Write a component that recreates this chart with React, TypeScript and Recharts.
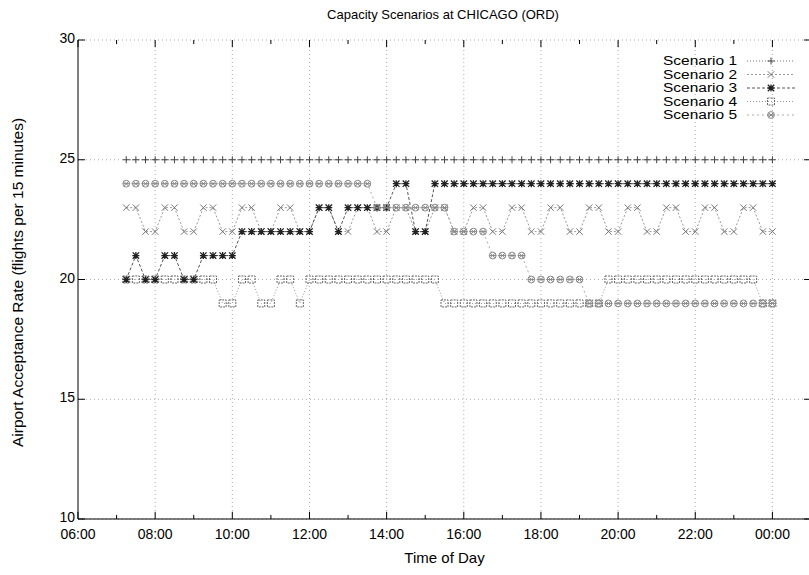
import React from 'react'
import { LineChart, Line, XAxis, YAxis, CartesianGrid, ReferenceLine, Legend } from 'recharts'

const FONT = '"Liberation Sans", Arial, Helvetica, sans-serif'

// 15-minute slots, 07:15 .. 00:00
const times = [
  '07:15', '07:30', '07:45', '08:00', '08:15', '08:30', '08:45', '09:00', '09:15', '09:30', '09:45', '10:00',
  '10:15', '10:30', '10:45', '11:00', '11:15', '11:30', '11:45', '12:00', '12:15', '12:30', '12:45', '13:00',
  '13:15', '13:30', '13:45', '14:00', '14:15', '14:30', '14:45', '15:00', '15:15', '15:30', '15:45', '16:00',
  '16:15', '16:30', '16:45', '17:00', '17:15', '17:30', '17:45', '18:00', '18:15', '18:30', '18:45', '19:00',
  '19:15', '19:30', '19:45', '20:00', '20:15', '20:30', '20:45', '21:00', '21:15', '21:30', '21:45', '22:00',
  '22:15', '22:30', '22:45', '23:00', '23:15', '23:30', '23:45', '00:00',
]

const scenario1 = [
  25, 25, 25, 25, 25, 25, 25, 25, 25, 25, 25, 25,
  25, 25, 25, 25, 25, 25, 25, 25, 25, 25, 25, 25,
  25, 25, 25, 25, 25, 25, 25, 25, 25, 25, 25, 25,
  25, 25, 25, 25, 25, 25, 25, 25, 25, 25, 25, 25,
  25, 25, 25, 25, 25, 25, 25, 25, 25, 25, 25, 25,
  25, 25, 25, 25, 25, 25, 25, 25,
]

const scenario2 = [
  23, 23, 22, 22, 23, 23, 22, 22, 23, 23, 22, 22,
  23, 23, 22, 22, 23, 23, 22, 22, 23, 23, 22, 22,
  23, 23, 22, 22, 23, 23, 22, 22, 23, 23, 22, 22,
  23, 23, 22, 22, 23, 23, 22, 22, 23, 23, 22, 22,
  23, 23, 22, 22, 23, 23, 22, 22, 23, 23, 22, 22,
  23, 23, 22, 22, 23, 23, 22, 22,
]

const scenario3 = [
  20, 21, 20, 20, 21, 21, 20, 20, 21, 21, 21, 21,
  22, 22, 22, 22, 22, 22, 22, 22, 23, 23, 22, 23,
  23, 23, 23, 23, 24, 24, 22, 22, 24, 24, 24, 24,
  24, 24, 24, 24, 24, 24, 24, 24, 24, 24, 24, 24,
  24, 24, 24, 24, 24, 24, 24, 24, 24, 24, 24, 24,
  24, 24, 24, 24, 24, 24, 24, 24,
]

const scenario4 = [
  20, 20, 20, 20, 20, 20, 20, 20, 20, 20, 19, 19,
  20, 20, 19, 19, 20, 20, 19, 20, 20, 20, 20, 20,
  20, 20, 20, 20, 20, 20, 20, 20, 20, 19, 19, 19,
  19, 19, 19, 19, 19, 19, 19, 19, 19, 19, 19, 19,
  19, 19, 20, 20, 20, 20, 20, 20, 20, 20, 20, 20,
  20, 20, 20, 20, 20, 20, 19, 19,
]

const scenario5 = [
  24, 24, 24, 24, 24, 24, 24, 24, 24, 24, 24, 24,
  24, 24, 24, 24, 24, 24, 24, 24, 24, 24, 24, 24,
  24, 24, 23, 23, 23, 23, 23, 23, 23, 23, 22, 22,
  22, 22, 21, 21, 21, 21, 20, 20, 20, 20, 20, 20,
  19, 19, 19, 19, 19, 19, 19, 19, 19, 19, 19, 19,
  19, 19, 19, 19, 19, 19, 19, 19,
]

const hourTicks = [6, 7, 8, 9, 10, 11, 12, 13, 14, 15, 16, 17, 18, 19, 20, 21, 22, 23, 24, 25]
const majorHours = [6, 8, 10, 12, 14, 16, 18, 20, 22, 24]
const xTickLabels = ['06:00', '08:00', '10:00', '12:00', '14:00', '16:00', '18:00', '20:00', '22:00', '00:00']
const yTicks = [10, 15, 20, 25, 30]

const toHour = (t: string) => {
  const [h, m] = t.split(':').map(Number)
  return (h < 6 ? h + 24 : h) + m / 60
}

const data = times.map((t, i) => ({
  hour: toHour(t),
  s1: scenario1[i],
  s2: scenario2[i],
  s3: scenario3[i],
  s4: scenario4[i],
  s5: scenario5[i],
}))

// gnuplot-style point types
const Plus = ({ cx, cy, c }: any) => (
  <path d={`M${cx - 3.5},${cy}h7M${cx},${cy - 3.5}v7`} stroke={c} strokeWidth={1} fill="none" />
)
const Cross = ({ cx, cy, c }: any) => (
  <path d={`M${cx - 3.2},${cy - 3.2}l6.4,6.4M${cx - 3.2},${cy + 3.2}l6.4,-6.4`} stroke={c} strokeWidth={1} fill="none" />
)
const Star = ({ cx, cy, c }: any) => (
  <path
    d={`M${cx - 3.5},${cy}h7M${cx},${cy - 3.5}v7M${cx - 3.2},${cy - 3.2}l6.4,6.4M${cx - 3.2},${cy + 3.2}l6.4,-6.4`}
    stroke={c}
    strokeWidth={1.3}
    fill="none"
  />
)
const Box = ({ cx, cy, c }: any) => (
  <rect x={cx - 3.5} y={cy - 3.5} width={7} height={7} stroke={c} strokeWidth={1} fill="none" strokeDasharray="2 1" />
)
const Hatch = ({ cx, cy, c }: any) => (
  <g stroke={c} strokeWidth={1} fill="none">
    <circle cx={cx} cy={cy} r={3.4} />
    <path d={`M${cx - 2.4},${cy - 2.4}l4.8,4.8M${cx - 2.4},${cy + 2.4}l4.8,-4.8M${cx - 3.4},${cy}h6.8`} />
  </g>
)

const series = [
  { key: 's1', name: 'Scenario 1', line: '#777', dash: '1 2', mark: '#444', Marker: Plus },
  { key: 's2', name: 'Scenario 2', line: '#999', dash: '2 2', mark: '#777', Marker: Cross },
  { key: 's3', name: 'Scenario 3', line: '#555', dash: '3 2', mark: '#222', Marker: Star },
  { key: 's4', name: 'Scenario 4', line: '#999', dash: '1 2', mark: '#666', Marker: Box },
  { key: 's5', name: 'Scenario 5', line: '#aaa', dash: '2 3', mark: '#888', Marker: Hatch },
]

const XTick = ({ x, y, payload }: any) => {
  const idx = majorHours.indexOf(payload.value)
  if (idx < 0) return <g />
  return (
    <text x={x} y={y + 20} textAnchor="middle" fontSize={14} fontFamily={FONT} fill="#000">
      {xTickLabels[idx]}
    </text>
  )
}

const YTick = ({ x, y, payload }: any) => (
  <text x={x - 3} y={y + 3} textAnchor="end" fontSize={14} fontFamily={FONT} fill="#000">
    {payload.value}
  </text>
)

const LegendBox = () => (
  <svg width={210} height={72}>
    {series.map((s, i) => {
      const cy = 7 + i * 13.5
      return (
        <g key={s.key}>
          <text
            x={140}
            y={cy + 4.2}
            textAnchor="end"
            fontSize={12}
            fontFamily={FONT}
            fill="#000"
            textLength={74}
            lengthAdjust="spacingAndGlyphs"
          >
            {s.name}
          </text>
          <line x1={150} y1={cy} x2={198} y2={cy} stroke={s.line} strokeDasharray={s.dash} />
          <s.Marker cx={174} cy={cy} c={s.mark} />
        </g>
      )
    })}
  </svg>
)

// inward tick marks in data units (gnuplot mirrors them on all four sides)
const X_MAJOR = 0.3
const X_MINOR = 0.17
const Y_TICK = 0.18

export default function App() {
  return (
    <div style={{ position: 'absolute', left: 0, top: 0, width: 809, height: 575, overflow: 'hidden', background: '#fff' }}>
      <div
        style={{
          position: 'absolute',
          left: 243,
          top: 7,
          width: 400,
          textAlign: 'center',
          fontFamily: FONT,
          fontSize: 13,
          lineHeight: '15px',
          color: '#000',
        }}
      >
        Capacity Scenarios at CHICAGO (ORD)
      </div>
      <LineChart width={812} height={575} data={data} margin={{ top: 40, right: 1, bottom: 26, left: 18 }}>
        <CartesianGrid vertical={false} stroke="#aaa" strokeDasharray="1 3" />
        {majorHours.slice(1).map((h) => (
          <ReferenceLine key={`g${h}`} x={h} stroke="#aaa" strokeDasharray="1 3" />
        ))}
        {hourTicks.map((h) => {
          const len = majorHours.includes(h) ? X_MAJOR : X_MINOR
          return [
            <ReferenceLine key={`tb${h}`} segment={[{ x: h, y: 10 }, { x: h, y: 10 + len }]} stroke="#000" />,
            <ReferenceLine key={`tt${h}`} segment={[{ x: h, y: 30 }, { x: h, y: 30 - len }]} stroke="#000" />,
          ]
        })}
        {yTicks.map((v) => [
          <ReferenceLine key={`tl${v}`} segment={[{ x: 6, y: v }, { x: 6 + Y_TICK, y: v }]} stroke="#000" />,
          <ReferenceLine key={`tr${v}`} segment={[{ x: 25, y: v }, { x: 25 - Y_TICK, y: v }]} stroke="#000" />,
        ])}
        <XAxis
          dataKey="hour"
          type="number"
          domain={[6, 25]}
          ticks={hourTicks}
          interval={0}
          allowDataOverflow
          height={30}
          tickSize={0}
          tickMargin={0}
          tickLine={false}
          axisLine={{ stroke: '#000' }}
          tick={(p: any) => <XTick {...p} />}
          label={{
            content: (p: any) => {
              const vb = p.viewBox
              return (
                <text x={vb.x + vb.width / 2} y={vb.y + vb.height + 14} textAnchor="middle" fontSize={15} fontFamily={FONT}>
                  Time of Day
                </text>
              )
            },
          }}
        />
        <XAxis
          xAxisId="top"
          orientation="top"
          type="number"
          domain={[6, 25]}
          allowDataOverflow
          height={0}
          tick={false}
          tickLine={false}
          axisLine={{ stroke: '#000' }}
        />
        <YAxis
          type="number"
          domain={[10, 30]}
          ticks={yTicks}
          interval={0}
          width={60}
          tickSize={0}
          tickMargin={0}
          tickLine={false}
          axisLine={{ stroke: '#000' }}
          tick={(p: any) => <YTick {...p} />}
          label={{
            content: (p: any) => {
              const vb = p.viewBox
              const cx = vb.x - 1
              const cy = vb.y + vb.height / 2 + 3
              return (
                <text
                  x={cx}
                  y={cy}
                  transform={`rotate(-90 ${cx} ${cy})`}
                  textAnchor="middle"
                  dominantBaseline="central"
                  fontSize={15.5}
                  fontFamily={FONT}
                >
                  Airport Acceptance Rate (flights per 15 minutes)
                </text>
              )
            },
          }}
        />
        <YAxis
          yAxisId="right"
          orientation="right"
          type="number"
          domain={[10, 30]}
          width={0}
          tick={false}
          tickLine={false}
          axisLine={{ stroke: '#000' }}
        />
        {series.map((s) => (
          <Line
            key={s.key}
            dataKey={s.key}
            name={s.name}
            type="linear"
            stroke={s.line}
            strokeWidth={1}
            strokeDasharray={s.dash}
            isAnimationActive={false}
            activeDot={false}
            dot={(p: any) => <s.Marker key={`${s.key}-${p.index}`} cx={p.cx} cy={p.cy} c={s.mark} />}
          />
        ))}
        <Legend
          layout="vertical"
          align="center"
          verticalAlign="middle"
          wrapperStyle={{ position: 'absolute', left: 597, top: 54, width: 210, height: 72 }}
          content={() => <LegendBox />}
        />
      </LineChart>
    </div>
  )
}
